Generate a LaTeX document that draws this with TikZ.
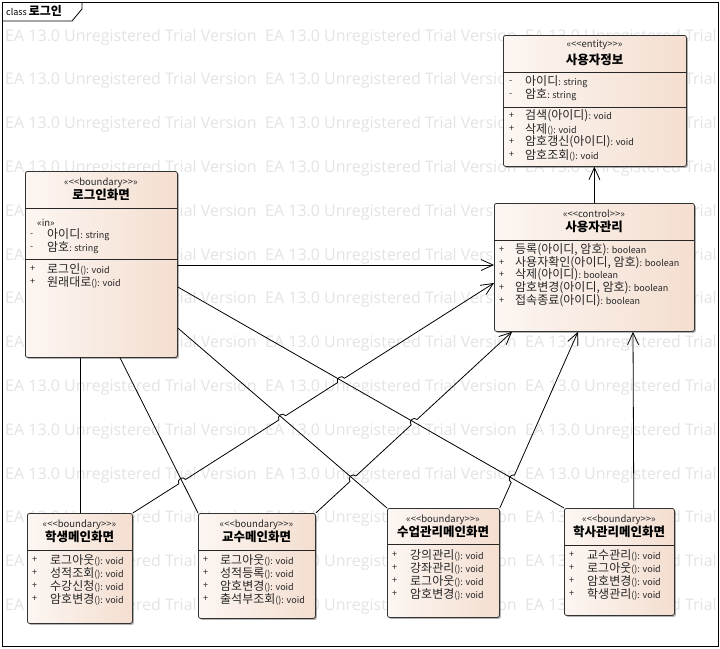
\documentclass[tikz,border=0pt]{standalone}
\usepackage{fontspec}
\setmainfont{Noto Sans CJK KR}
\newfontfamily\wmfont{Open Sans}
\usetikzlibrary{arrows.meta,shadows,calc}
\definecolor{wmgray}{RGB}{228,228,228}
\definecolor{boxL}{RGB}{252,246,242}
\definecolor{boxR}{RGB}{244,222,208}
\newcommand\sm[1]{{\fontsize{9}{10}\selectfont #1}}
\newcommand\stx[1]{«<\kern0pt<#1>\kern0pt>»}
\newcommand\mrow[6]{\node[vis] (#1s) at (#2,#4) {#5}; \node[mem] (#1) at (#3,#4) {#6};}
\begin{document}
\begin{tikzpicture}[x=1pt,y=-1pt,
 umlbox/.style={draw=black!80, line width=0.8pt, rounded corners=2.2pt, left color=boxL, right color=boxR,
   drop shadow={shadow xshift=1.5pt, shadow yshift=-1.5pt, fill=black!60, opacity=0.5}, inner sep=0pt, anchor=north west},
 div/.style={draw=black!85, line width=0.75pt},
 stereo/.style={font=\fontsize{9.5}{10}\selectfont, inner sep=0pt, text=black!85},
 ttl/.style={font=\bfseries\fontsize{12.5}{14}\selectfont, inner sep=0pt},
 mem/.style={font=\fontsize{12}{13}\selectfont, inner sep=0pt, anchor=west, text=black!85},
 vis/.style={font=\fontsize{9}{10}\selectfont, inner sep=0pt, anchor=west, text=black!85},
 conn/.style={draw=black, line width=0.8pt},
 arr/.style={conn, -{Straight Barb[length=12pt,width=11pt]}},
 hop/.style={bend left=90, looseness=1.5},
 wm/.style={font=\wmfont\fontsize{16}{18}\selectfont, text=wmgray, inner sep=0pt, anchor=west}]
\useasboundingbox (0,0) rectangle (720,648);
\fill[white] (0,0) rectangle (720,648);
% watermark
\begin{scope}
\clip (0,0) rectangle (720,648);
\foreach \r in {0,...,13} {
  \foreach \c in {0,1,2} {
    \node[wm] (wm-\r-\c) at ({5+260*\c},{37+43.8*\r}) {EA 13.0 Unregistered Trial Version};
  }
}
\end{scope}
% frame
\draw[line width=0.8pt] (2,2) rectangle (718,646);
\draw[line width=0.8pt] (2,21) -- (72,21) -- (82,9) -- (82,2);
\node[inner sep=0pt, anchor=west] (frametitle) at (6,11) {\fontsize{9}{10}\selectfont class \bfseries\fontsize{12}{13}\selectfont 로그인};

% boxes
\node[umlbox, minimum width=183pt, minimum height=131pt] (info) at (503,35) {};
\node[umlbox, minimum width=200pt, minimum height=128pt] (mgr) at (494,203) {};
\node[umlbox, minimum width=152pt, minimum height=186pt] (login) at (25,171) {};
\node[umlbox, minimum width=105pt, minimum height=110pt] (stu) at (27,513) {};
\node[umlbox, minimum width=117pt, minimum height=105pt] (prof) at (198,513) {};
\node[umlbox, minimum width=112pt, minimum height=109pt] (cls) at (387,508) {};
\node[umlbox, minimum width=110pt, minimum height=107pt] (acad) at (564,508) {};

% dividers
\draw[div] (503,72) -- (686,72);
\draw[div] (503,107) -- (686,107);
\draw[div] (494,240) -- (694,240);
\draw[div] (25,208) -- (177,208);
\draw[div] (25,259) -- (177,259);
\draw[div] (27,550) -- (132,550);
\draw[div] (198,550) -- (315,550);
\draw[div] (387,544) -- (499,544);
\draw[div] (564,545) -- (674,545);

% 사용자정보
\node[stereo] (info-st) at (594.5,45) {\stx{entity}};
\node[ttl] (info-t) at (594.5,60) {사용자정보};
\mrow{info-a1}{509}{525}{82}{-}{아이디\sm{: string}}
\mrow{info-a2}{509}{525}{95}{-}{암호\sm{: string}}
\mrow{info-m1}{509}{525}{116}{+}{검색(아이디)\sm{: void}}
\mrow{info-m2}{509}{525}{129}{+}{삭제\sm{(): void}}
\mrow{info-m3}{509}{525}{142}{+}{암호갱신(아이디)\sm{: void}}
\mrow{info-m4}{509}{525}{155}{+}{암호조회\sm{(): void}}

% 사용자관리
\node[stereo] (mgr-st) at (594,214) {\stx{control}};
\node[ttl] (mgr-t) at (594,227) {사용자관리};
\mrow{mgr-m1}{499}{515}{250}{+}{등록(아이디, 암호)\sm{: boolean}}
\mrow{mgr-m2}{499}{515}{263}{+}{사용자확인(아이디, 암호)\sm{: boolean}}
\mrow{mgr-m3}{499}{515}{275}{+}{삭제(아이디)\sm{: boolean}}
\mrow{mgr-m4}{499}{515}{288}{+}{암호변경(아이디, 암호)\sm{: boolean}}
\mrow{mgr-m5}{499}{515}{301}{+}{접속종료(아이디)\sm{: boolean}}

% 로그인화면
\node[stereo] (login-st) at (101,183) {\stx{boundary}};
\node[ttl] (login-t) at (101,195) {로그인화면};
\node[stereo, anchor=west] (login-in) at (37,223) {«in»};
\mrow{login-a1}{30}{47}{235}{-}{아이디\sm{: string}}
\mrow{login-a2}{30}{47}{248}{-}{암호\sm{: string}}
\mrow{login-m1}{30}{47}{269}{+}{로그인\sm{(): void}}
\mrow{login-m2}{30}{47}{282}{+}{원래대로\sm{(): void}}

% 학생메인화면
\node[stereo] (stu-st) at (79.5,525) {\stx{boundary}};
\node[ttl] (stu-t) at (79.5,537) {학생메인화면};
\mrow{stu-m1}{32}{50}{560}{+}{로그아웃\sm{(): void}}
\mrow{stu-m2}{32}{50}{573}{+}{성적조회\sm{(): void}}
\mrow{stu-m3}{32}{50}{586}{+}{수강신청\sm{(): void}}
\mrow{stu-m4}{32}{50}{599}{+}{암호변경\sm{(): void}}

% 교수메인화면
\node[stereo] (prof-st) at (256.5,525) {\stx{boundary}};
\node[ttl] (prof-t) at (256.5,537) {교수메인화면};
\mrow{prof-m1}{203}{220}{560}{+}{로그아웃\sm{(): void}}
\mrow{prof-m2}{203}{220}{573}{+}{성적등록\sm{(): void}}
\mrow{prof-m3}{203}{220}{586}{+}{암호변경\sm{(): void}}
\mrow{prof-m4}{203}{220}{599}{+}{출석부조회\sm{(): void}}

% 수업관리메인화면
\node[stereo] (cls-st) at (443,520) {\stx{boundary}};
\node[ttl] (cls-t) at (443,532) {수업관리메인화면};
\mrow{cls-m1}{392}{410}{555}{+}{강의관리\sm{(): void}}
\mrow{cls-m2}{392}{410}{568}{+}{강좌관리\sm{(): void}}
\mrow{cls-m3}{392}{410}{581}{+}{로그아웃\sm{(): void}}
\mrow{cls-m4}{392}{410}{594}{+}{암호변경\sm{(): void}}

% 학사관리메인화면
\node[stereo] (acad-st) at (619,520) {\stx{boundary}};
\node[ttl] (acad-t) at (619,532) {학사관리메인화면};
\mrow{acad-m1}{569}{587}{555}{+}{교수관리\sm{(): void}}
\mrow{acad-m2}{569}{587}{568}{+}{로그아웃\sm{(): void}}
\mrow{acad-m3}{569}{587}{581}{+}{암호변경\sm{(): void}}
\mrow{acad-m4}{569}{587}{594}{+}{학생관리\sm{(): void}}

% connector end points
\coordinate (s1) at ($(login.north east)+(0,116)$);
\coordinate (e1) at (acad.north west);
\coordinate (s2) at ($(login.north east)+(0,157)$);
\coordinate (e2) at (cls.north west);
\coordinate (s3) at ($(login.south west)+(95,0)$);
\coordinate (e3) at (prof.north west);
\coordinate (s7) at ($(login.south west)+(55,0)$);
\coordinate (e7) at ($(stu.north west)+(53,0)$);
\coordinate (sh) at ($(login.north east)+(0,94)$);
\coordinate (eh) at ($(mgr.north west)+(0,62)$);
\coordinate (s4) at (stu.north east);
\coordinate (e4) at ($(mgr.north west)+(0,80)$);
\coordinate (s5) at (prof.north east);
\coordinate (e5) at ($(mgr.south west)+(18,0)$);
\coordinate (s6) at (cls.north east);
\coordinate (e6) at ($(mgr.south west)+(84,0)$);
\coordinate (s8) at ($(acad.north east)+(-41,0)$);
\coordinate (e8) at ($(mgr.south west)+(139,0)$);

% crossings
\coordinate (h43) at (intersection of s4--e4 and s3--e3);
\coordinate (h42) at (intersection of s4--e4 and s2--e2);
\coordinate (h41) at (intersection of s4--e4 and s1--e1);
\coordinate (h52) at (intersection of s5--e5 and s2--e2);
\coordinate (h51) at (intersection of s5--e5 and s1--e1);
\coordinate (h61) at (intersection of s6--e6 and s1--e1);

% connectors
\draw[conn] (s1) -- (e1);
\draw[conn] (s2) -- (e2);
\draw[conn] (s3) -- (e3);
\draw[conn] (s7) -- (e7);
\draw[arr] (sh) -- (eh);
\draw[arr] (mgr.north) -- (mgr.north |- info.south);
\draw[arr] (s4) -- ($(h43)!4pt!(s4)$) to[hop] ($(h43)!4pt!(e4)$)
  -- ($(h42)!4pt!(s4)$) to[hop] ($(h42)!4pt!(e4)$)
  -- ($(h41)!4pt!(s4)$) to[hop] ($(h41)!4pt!(e4)$) -- (e4);
\draw[arr] (s5) -- ($(h52)!4pt!(s5)$) to[hop] ($(h52)!4pt!(e5)$)
  -- ($(h51)!4pt!(s5)$) to[hop] ($(h51)!4pt!(e5)$) -- (e5);
\draw[arr] (s6) -- ($(h61)!4pt!(s6)$) to[hop] ($(h61)!4pt!(e6)$) -- (e6);
\draw[arr] (s8) -- (e8);
\end{tikzpicture}
\end{document}
